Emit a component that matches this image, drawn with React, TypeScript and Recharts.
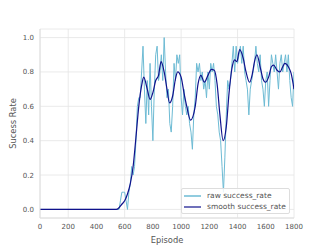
import { LineChart, Line, XAxis, YAxis, CartesianGrid } from 'recharts';

// raw success rate, sampled every 10 episodes from 500 on (zero before)
const rawStart = 500;
const rawStep = 10;
const rawValues = [
  0, 0, 0, 0, 0, 0, 0, 0.05, 0.1, 0.1,
  0.1, 0.05, 0, 0.1, 0.15, 0.25, 0.2, 0.25, 0.4, 0.6,
  0.65, 0.65, 0.8, 0.95, 0.7, 0.5, 0.75, 0.55, 0.85, 0.6,
  0.4, 0.7, 0.9, 0.95, 0.75, 0.8, 0.9, 0.75, 1.0, 0.8,
  0.65, 0.7, 0.5, 0.45, 0.6, 0.85, 0.75, 0.9, 0.85, 0.9,
  0.65, 0.55, 0.7, 0.6, 0.55, 0.6, 0.5, 0.45, 0.35, 0.55,
  0.65, 0.85, 0.8, 0.85, 0.75, 0.8, 0.7, 0.75, 0.65, 0.8,
  0.7, 0.85, 0.8, 0.85, 0.75, 0.6, 0.55, 0.45, 0.4, 0.25,
  0.1, 0.3, 0.55, 0.75, 0.7, 0.75, 0.85, 0.95, 0.8, 0.95,
  0.85, 0.9, 0.95, 0.85, 0.95, 0.8, 0.75, 0.7, 0.55, 0.7,
  0.75, 0.8, 0.85, 0.95, 0.85, 0.8, 0.9, 0.75, 0.7, 0.6,
  0.75, 0.8, 0.6, 0.75, 0.9, 0.85, 0.8, 0.9, 0.8, 0.7,
  0.85, 0.9, 0.8, 0.85, 0.9, 0.8, 0.9, 0.75, 0.65, 0.6,
  0.8,
];

const smoothEpisodes = [
  0, 540, 560, 580, 600, 620, 640, 660, 680, 700, 720, 735, 760, 780, 800, 820,
  840, 858, 880, 900, 918, 940, 960, 976, 1000, 1020, 1040, 1067, 1100, 1120,
  1140, 1165, 1190, 1215, 1235, 1255, 1275, 1298, 1320, 1340, 1360, 1380, 1395,
  1415, 1440, 1460, 1485, 1505, 1520, 1537, 1560, 1580, 1597, 1620, 1640, 1655,
  1680, 1700, 1720, 1735, 1760, 1780, 1800,
];
const smoothValues = [
  0, 0, 0.01, 0.03, 0.05, 0.09, 0.15, 0.25, 0.42, 0.6, 0.72, 0.77, 0.7, 0.64, 0.68, 0.75,
  0.78, 0.86, 0.8, 0.7, 0.62, 0.66, 0.76, 0.8, 0.77, 0.68, 0.6, 0.52, 0.6, 0.73,
  0.78, 0.74, 0.78, 0.815, 0.81, 0.73, 0.55, 0.4, 0.48, 0.68, 0.82, 0.87, 0.86,
  0.93, 0.88, 0.8, 0.74, 0.79, 0.86, 0.9, 0.83, 0.76, 0.74, 0.77, 0.83, 0.84,
  0.81, 0.8, 0.83, 0.85, 0.83, 0.79, 0.7,
];

const xTicks = [0, 200, 400, 600, 800, 1000, 1200, 1400, 1600, 1800];
const yTicks = [0, 0.2, 0.4, 0.6, 0.8, 1.0];

const RAW_COLOR = '#6dbbd4';
const SMOOTH_COLOR = '#10128c';
const FONT = 'DejaVu Sans, sans-serif';

const rawData = [{ episode: 0, value: 0 }].concat(
  rawValues.map((v, i) => ({ episode: rawStart + i * rawStep, value: v }))
);
const smoothData = smoothEpisodes.map((e, i) => ({ episode: e, value: smoothValues[i] }));

function LegendBox() {
  const row = (color: string, label: string, w: number) => (
    <div style={{ display: 'flex', alignItems: 'center', height: 11 }}>
      <svg width={21} height={4} style={{ marginRight: 3, flex: 'none' }}>
        <line x1={1} y1={2} x2={18} y2={2} stroke={color} strokeWidth={w} />
      </svg>
      <span>{label}</span>
    </div>
  );
  return (
    <div
      style={{
        position: 'absolute',
        left: 181,
        top: 188,
        background: 'rgba(255,255,255,0.85)',
        border: '1px solid #dddddd',
        borderRadius: 2,
        padding: '1px 3px 1px 1px',
        fontFamily: FONT,
        fontSize: 7.5,
        color: '#555',
        whiteSpace: 'nowrap',
        lineHeight: '11px',
      }}
    >
      {row(RAW_COLOR, 'raw success_rate', 1.5)}
      {row(SMOOTH_COLOR, 'smooth success_rate', 1.2)}
    </div>
  );
}

export default function App() {
  return (
    <div style={{ position: 'absolute', left: 0, top: 0, width: 327, height: 245, background: '#fff' }}>
      <LineChart width={327} height={245} margin={{ top: 29, right: 33, left: 0, bottom: 0 }}>
        <CartesianGrid stroke="#e4e4e4" strokeWidth={0.8} />
        <XAxis
          dataKey="episode"
          type="number"
          domain={[0, 1800]}
          ticks={xTicks}
          allowDataOverflow
          height={27}
          tickLine={false}
          axisLine={{ stroke: '#dedede' }}
          tick={{ fontSize: 7, fill: '#555', fontFamily: FONT }}
          tickSize={4}
          tickMargin={2}
          label={{ value: 'Episode', position: 'insideBottom', offset: 2, fontSize: 8.3, fill: '#555', fontFamily: FONT }}
        />
        <XAxis xAxisId="top" orientation="top" type="number" domain={[0, 1800]} height={0} tick={false} tickLine={false} axisLine={{ stroke: '#dedede' }} />
        <YAxis
          type="number"
          domain={[-0.05, 1.05]}
          ticks={yTicks}
          allowDataOverflow
          width={40}
          tickLine={false}
          axisLine={{ stroke: '#dedede' }}
          tickFormatter={(v: number) => v.toFixed(1)}
          tick={{ fontSize: 7, fill: '#555', fontFamily: FONT }}
          tickSize={4}
          tickMargin={2}
          label={{ value: 'Sucess Rate', angle: -90, position: 'insideLeft', offset: 13, fontSize: 8.3, fill: '#555', fontFamily: FONT, style: { textAnchor: 'middle' } }}
        />
        <YAxis yAxisId="right" orientation="right" width={0} tick={false} tickLine={false} axisLine={{ stroke: '#dedede' }} />
        <Line data={rawData} dataKey="value" type="linear" stroke={RAW_COLOR} strokeWidth={1} dot={false} isAnimationActive={false} />
        <Line data={smoothData} dataKey="value" type="monotone" stroke={SMOOTH_COLOR} strokeWidth={1.2} dot={false} isAnimationActive={false} />
      </LineChart>
      <LegendBox />
    </div>
  );
}
